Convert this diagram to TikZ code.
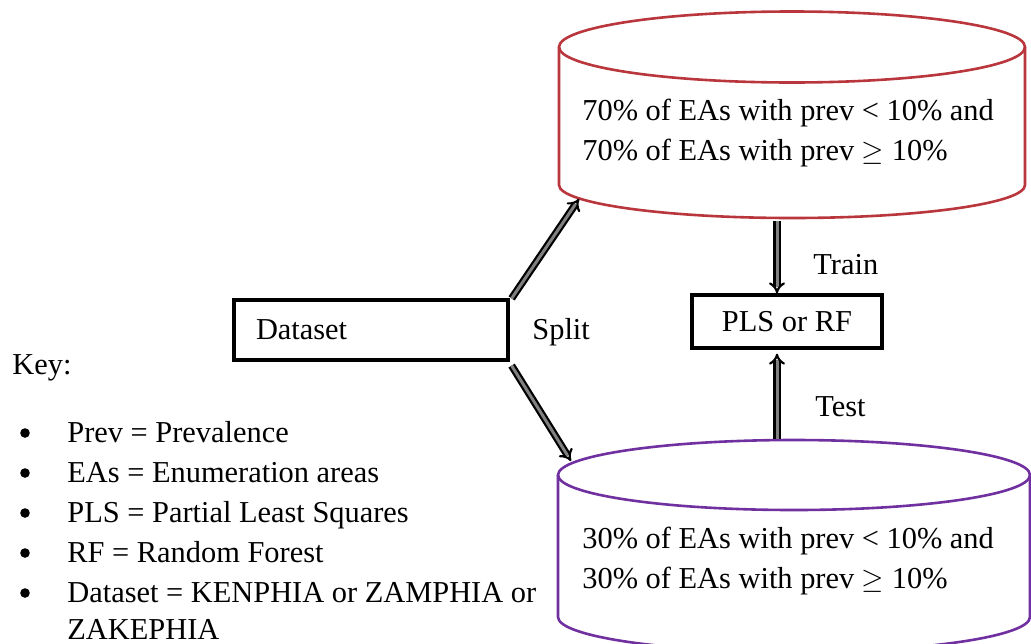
\documentclass[tikz,border=0pt]{standalone}
\usepackage{fontspec}
\setmainfont{Liberation Serif}
\usetikzlibrary{arrows.meta}
\definecolor{cylred}{RGB}{185,55,60}
\definecolor{cylpurple}{RGB}{112,48,160}
\begin{document}
\begin{tikzpicture}[x=0.5pt,y=-0.5pt, font=\fontsize{15.2}{20}\selectfont,
  box/.style={draw, line width=1.6pt, inner sep=0pt},
  dbl/.style={double=gray, double distance=1.5pt, line width=1.1pt, -{Implies[scale=1.2]}},
  lbl/.style={anchor=west, inner sep=0pt},
  item/.style={anchor=west, inner sep=0pt, text height=10pt, text depth=3pt},
  dot/.style={circle, fill, inner sep=0pt, minimum size=4.8pt},
  cyl/.style={line width=1.3pt}]
\useasboundingbox (0,0) rectangle (1031,643);
% top cylinder
\draw[cyl, cylred] (792,47) ellipse [x radius=116.5pt, y radius=17.75pt];
\draw[cyl, cylred] (559,47) -- (559,185) arc[start angle=180, end angle=360, x radius=116.5pt, y radius=16.5pt] -- (1025,47);
% bottom cylinder
\draw[cyl, cylpurple] (794,475) ellipse [x radius=118pt, y radius=17.5pt];
\draw[cyl, cylpurple] (558,475) -- (558,617) arc[start angle=180, end angle=360, x radius=118pt, y radius=17.5pt] -- (1030,475);
% texts in cylinders
\node[lbl, align=left] (traintext) at (582,133) {70\% of EAs with prev < 10\% and\\70\% of EAs with prev $\geq$ 10\%};
\node[lbl, align=left] (testtext) at (582,561) {30\% of EAs with prev < 10\% and\\30\% of EAs with prev $\geq$ 10\%};
% boxes
\node[box, text width=115pt, inner xsep=11pt, minimum height=30pt, align=left] (dataset) at (371,330) {Dataset};
\node[box, minimum width=95pt, minimum height=26.5pt] (pls) at (787,321.5) {PLS or RF};
% connector ends
\coordinate (c1a) at (579,199);
\coordinate (c2a) at (571,461);
\coordinate (c1b) at (777,221);
\coordinate (c2b) at (777,439);
\draw[dbl] ([xshift=1pt]dataset.north east) -- (c1a);
\draw[dbl] ([xshift=1pt,yshift=-2pt]dataset.south east) -- (c2a);
\draw[dbl] (c1b) -- (c1b |- pls.north);
\draw[dbl, shorten >=2pt] (c2b) -- (c2b |- pls.south);
% labels
\node[lbl] (split) at (532,332) {Split};
\node[lbl] (train) at (813,265) {Train};
\node[lbl] (test) at (815,407) {Test};
% key
\node[lbl] (key) at (12,368) {Key:};
\foreach \i/\t in {1/{Prev = Prevalence},2/{EAs = Enumeration areas},3/{PLS = Partial Least Squares},4/{RF = Random Forest},5/{Dataset = KENPHIA or ZAMPHIA or}} {
  \node[dot] (b\i) at (25,{393+40*\i}) {};
  \node[item] (k\i) at (67,{395+40*\i}) {\t};
}
\node[item] (k6) at (67,632) {ZAKEPHIA};
\end{tikzpicture}
\end{document}
